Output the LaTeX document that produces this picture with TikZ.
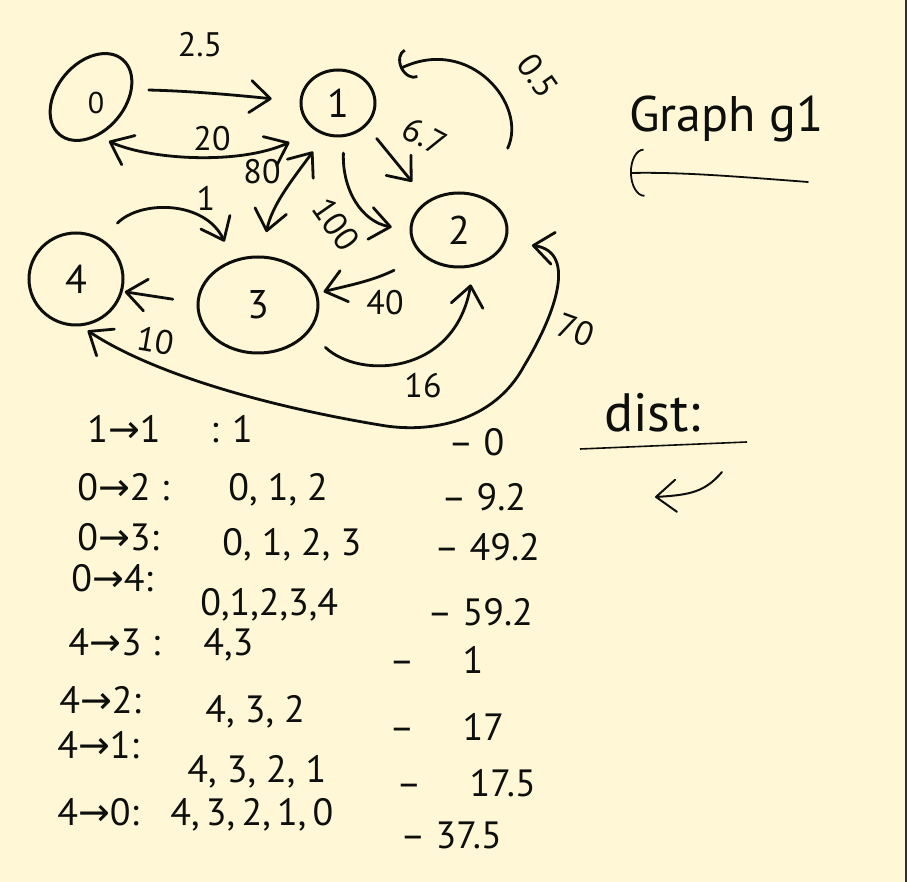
\documentclass[tikz,border=0pt]{standalone}
\usepackage{fontspec}
\setmainfont{PT Sans}
\newfontfamily\symfont{DejaVu Sans}
\usepackage{xcolor}
\usepackage{tikz}
\usetikzlibrary{positioning,arrows.meta,shapes.geometric}
\definecolor{paper}{RGB}{255,247,214}
\definecolor{ink}{RGB}{14,14,12}
\definecolor{rim}{RGB}{48,48,48}
\newcommand{\ar}{{\symfont →}}

\begin{document}
\begin{tikzpicture}[x=0.5pt, y=-0.5pt, >={Straight Barb[length=10pt,width=16pt,round]}, color=ink]
  \tikzstyle{vert}=[ellipse,draw,line width=1.5pt,inner sep=0pt,font=\fontsize{20}{24}\selectfont]
  \tikzstyle{wt}=[font=\fontsize{17}{20}\selectfont,inner sep=1pt]
  \tikzstyle{row}=[anchor=west,font=\fontsize{19}{23}\selectfont,inner sep=0pt]
  \tikzstyle{conn}=[line width=1.4pt,line cap=round]

  \fill[paper] (0,0) rectangle (907,882);
  \fill[rim] (905,0) rectangle (907,882);
  \useasboundingbox (0,0) rectangle (907,882);

  \node[vert,minimum width=49pt,minimum height=34pt,rotate=50] (n0) at (91,97) {};
  \node[font=\fontsize{15}{18}\selectfont] (t0) at (96,103) {0};
  \node[vert,minimum width=37pt,minimum height=33pt] (n1) at (338,103) {1};
  \node[vert,minimum width=48pt,minimum height=37pt] (n2) at (459,230) {2};
  \node[vert,minimum width=60pt,minimum height=48pt] (n3) at (258,305) {3};
  \node[vert,minimum width=47pt,minimum height=46pt] (n4) at (76,279) {4};

  \draw[conn,->,shorten <=8pt,shorten >=14pt] (n0.-40) .. controls (190,91) and (235,95) .. (n1.178);
  \draw[conn,<->,shorten <=6pt,shorten >=14pt] (n0.-130) .. controls (150,160) and (240,165) .. (n1.-130);
  \draw[conn,<->,shorten <=10pt,shorten >=12pt] (n1.-112) .. controls (292,180) and (272,205) .. (n3.86);
  \draw[conn,->,shorten <=8pt,shorten >=9pt] (n1.-80) .. controls (342,190) and (362,222) .. (n2.180);
  \draw[conn,->,shorten <=8pt,shorten >=12pt] (n1.-39) -- (n2.137);
  \draw[conn,-{Arc Barb[length=6pt,width=16pt]},shorten <=27pt,shorten >=17pt] (n2.52) .. controls (528,105) and (470,35) .. (n1.32);
  \draw[conn,->,shorten <=11pt,shorten >=10pt] (n4.57) .. controls (140,200) and (205,200) .. (n3.119);
  \draw[conn,->,shorten <=12pt,shorten >=1pt] (n3.178) -- (n4.-15);
  \draw[conn,->,shorten <=16pt,shorten >=3pt] (n2.-144) .. controls (370,282) and (345,286) .. (n3.11);
  \draw[conn,->,shorten <=11pt,shorten >=9pt] (n3.-28) .. controls (360,380) and (455,375) .. (n2.-68);
  \draw[conn,<->,shorten <=13pt,shorten >=4pt] (n2.-14) .. controls (580,252) and (552,320) .. (524,366)
    .. controls (494,422) and (430,434) .. (380,425) .. controls (260,405) and (150,372) .. (n4.-84);

  \node[wt] (w25) at (200,45) {2.5};
  \node[wt] (w20) at (212,139) {20};
  \node[wt] (w80) at (262,172) {80};
  \node[wt,rotate=-55] (w100) at (336,224) {100};
  \node[wt,rotate=-28] (w67) at (425,136) {6.7};
  \node[wt,rotate=-55] (w05) at (538,76) {0.5};
  \node[wt] (w1) at (206,198) {1};
  \node[wt,rotate=-10] (w10) at (156,341) {10};
  \node[wt] (w40) at (385,303) {40};
  \node[wt] (w16) at (423,386) {16};
  \node[wt,rotate=-20] (w70) at (576,330) {70};

  \node[font=\fontsize{25}{30}\selectfont,anchor=base west] (title) at (622,132) {Graph g1};
  \coordinate (gtail) at (808,182);
  \coordinate (ghead) at (630,173);
  \draw[line width=0.9pt,line cap=round,-{Arc Barb[length=7pt,width=24pt]}] (gtail) .. controls (730,176) and (680,172) .. (ghead);

  \node[font=\fontsize{27}{30}\selectfont,anchor=base west] (dist) at (597,432) {dist:};
  \coordinate (dl) at (580,449);
  \coordinate (dr) at (747,442);
  \draw[line width=0.8pt] (dl) -- (dr);
  \coordinate (dtail) at (722,472);
  \coordinate (dhead) at (655,497);
  \draw[line width=1pt,line cap=round,->] (dtail) .. controls (705,492) and (690,495) .. (dhead);

  \node[row] (r1s) at (87,429) {1\ar1};
  \node[row] (r1p) at (210,429) {: 1};
  \node[row] (r1d) at (448,442) {– 0};
  \node[row] (r2s) at (77,487) {0\ar2 :};
  \node[row] (r2p) at (228,490) {0, 1, 2};
  \node[row] (r2d) at (441,497) {– 9.2};
  \node[row] (r3s) at (77,537) {0\ar3:};
  \node[row] (r3p) at (222,545) {0, 1, 2, 3};
  \node[row] (r3d) at (434,547) {– 49.2};
  \node[row] (r4s) at (71,578) {0\ar4:};
  \node[row] (r4p) at (200,605) {0,1,2,3,4};
  \node[row] (r4d) at (427,612) {– 59.2};
  \node[row] (r5s) at (68,642) {4\ar3 :};
  \node[row] (r5p) at (203,645) {4,3};
  \node[row] (r5d) at (389,660) {–\quad\ 1};
  \node[row] (r6s) at (59,700) {4\ar2:};
  \node[row] (r6p) at (205,712) {4, 3, 2};
  \node[row] (r6d) at (389,727) {–\quad\ 17};
  \node[row] (r7s) at (57,745) {4\ar1:};
  \node[row] (r7p) at (187,772) {4, 3, 2, 1};
  \node[row] (r7d) at (396,783) {–\quad\ 17.5};
  \node[row] (r8s) at (57,812) {4\ar0:};
  \node[row] (r8p) at (170,815) {4,\,3,\,2,\,1,\,0};
  \node[row] (r8d) at (400,835) {– 37.5};
\end{tikzpicture}
\end{document}
